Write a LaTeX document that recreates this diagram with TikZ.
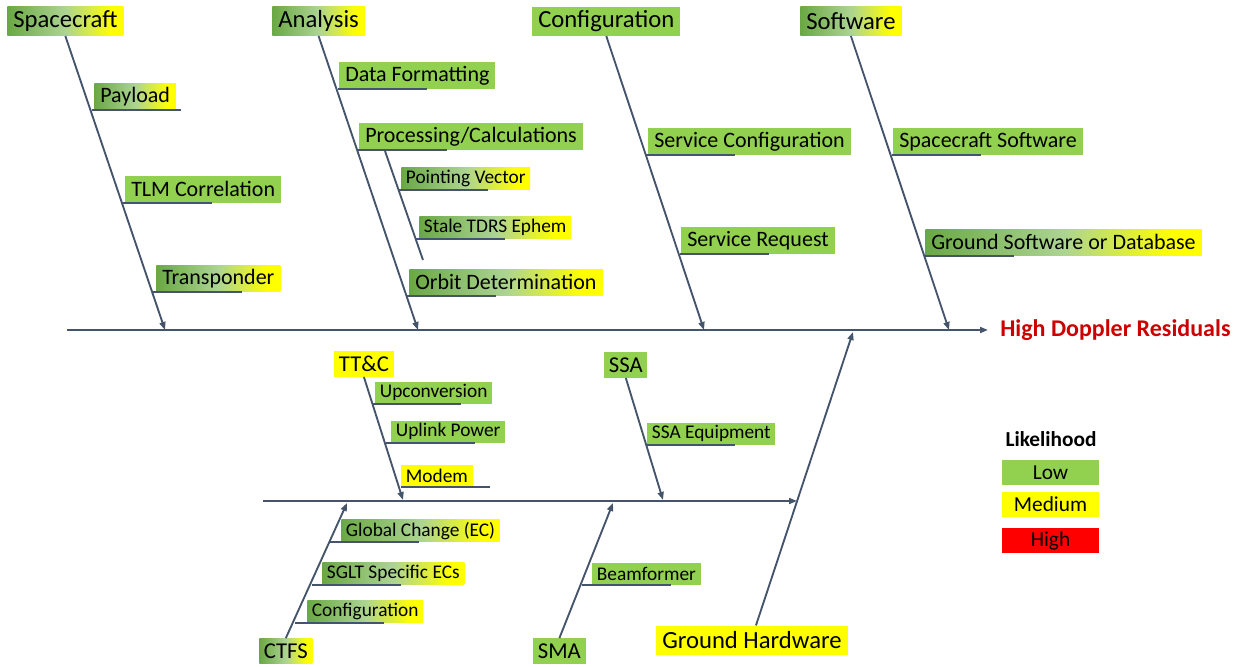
\documentclass[tikz,border=0pt]{standalone}
\usepackage{fontspec}
\setmainfont{Carlito}
\usepackage{tikz}
\usetikzlibrary{arrows.meta}
\definecolor{slate}{RGB}{68,84,106}
\definecolor{lowgreen}{RGB}{146,208,80}
\definecolor{medyellow}{RGB}{255,255,0}
\definecolor{highred}{RGB}{255,0,0}
\definecolor{gdark}{RGB}{106,168,68}
\definecolor{gpale}{RGB}{172,212,146}
\definecolor{effectred}{RGB}{204,0,0}
\pgfdeclarehorizontalshading{likely}{100bp}{color(0bp)=(gdark); color(25bp)=(gdark); color(50bp)=(gpale); color(70bp)=(medyellow); color(100bp)=(medyellow)}

\begin{document}
\begin{tikzpicture}[x=0.75pt, y=-0.75pt,
  cause/.style={anchor=south west, inner xsep=4.5pt, inner ysep=0pt,
                minimum height=21.75pt, font=\fontsize{18.5}{20}\selectfont},
  subcause/.style={anchor=south west, inner xsep=4.5pt, inner ysep=0pt,
                   minimum height=20pt, font=\fontsize{16.5}{18}\selectfont},
  group/.style={anchor=south west, inner xsep=3.5pt, inner ysep=0pt,
                minimum height=19pt, font=\fontsize{17}{18}\selectfont},
  minor/.style={anchor=south west, inner xsep=3.5pt, inner ysep=0pt,
                minimum height=16.5pt, font=\fontsize{14.5}{16}\selectfont},
  low/.style={fill=lowgreen},
  med/.style={fill=medyellow},
  mix/.style={shade, shading=likely},
  bone/.style={draw=slate, line width=1.4pt},
  arr/.style={bone, -{Triangle[length=6pt, width=4.5pt]}},
  legend/.style={minimum width=72.75pt, minimum height=18.75pt, inner sep=0pt,
                 font=\fontsize{16}{18}\selectfont},
]
  \useasboundingbox (0,0) rectangle (1239,667);

  % head and main spine
  \node[anchor=west, inner xsep=9pt, text=effectred,
        font=\fontsize{18}{20}\selectfont\bfseries] (effect) at (988,330) {High Doppler Residuals};
  \coordinate (tail) at (67,330);
  \draw[arr] (tail) -- (effect.west);

  % upper causes
  \node[cause, mix] (craft) at (7,36) {Spacecraft};
  \node[cause, mix] (anal) at (272,36) {Analysis};
  \node[cause, low] (config) at (532,36) {Configuration};
  \node[cause, mix] (soft) at (800,36) {Software};

  \coordinate (craftend) at (165,330);
  \coordinate (analend) at (418,330);
  \coordinate (configend) at (704,330);
  \coordinate (softend) at (949,330);
  \draw[arr] (craft.south) -- (craftend);
  \draw[arr] (anal.south) -- (analend);
  \draw[arr] (config.south) -- (configend);
  \draw[arr] (soft.south) -- (softend);

  % Spacecraft
  \node[subcause, mix] (payload) at (94,110) {Payload};
  \node[subcause, low] (tlm) at (125,203) {TLM Correlation};
  \node[subcause, mix] (xpdr) at (156,292) {Transponder};
  \draw[bone] (payload.south west) ++(-2,0) -- ++(89,0);
  \draw[bone] (tlm.south west) ++(-2,0) -- ++(89,0);
  \draw[bone] (xpdr.south west) ++(-3,0) -- ++(89,0);

  % Analysis
  \node[subcause, low] (fmt) at (339,89) {Data Formatting};
  \node[subcause, low] (proc) at (359,150) {Processing/Calculations};
  \node[minor, mix] (point) at (401,190) {Pointing Vector};
  \node[minor, mix] (stale) at (419,239) {Stale TDRS Ephem};
  \node[subcause, mix] (orbit) at (409,296) {Orbit Determination};
  \draw[bone] (fmt.south west) ++(-1,0) -- ++(89,0);
  \draw[bone] (proc.south west) ++(-1,0) -- ++(89,0);
  \coordinate (procfork) at (385,151);
  \coordinate (procend) at (423,260);
  \draw[bone] (procfork) -- (procend);
  \draw[bone] (point.south west) ++(-2,0) -- ++(89,0);
  \draw[bone] (stale.south west) ++(-3,0) -- ++(89,0);
  \draw[bone] (orbit.south west) ++(-2,0) -- ++(89,0);

  % Configuration
  \node[subcause, low] (svcconf) at (648,155) {Service Configuration};
  \node[subcause, low] (svcreq) at (681,254) {Service Request};
  \draw[bone] (svcconf.south west) ++(-2,0) -- ++(89,0);
  \draw[bone] (svcreq.south west) ++(-1,0) -- ++(89,0);

  % Software
  \node[subcause, low] (scsw) at (893,155) {Spacecraft Software};
  \node[subcause, mix] (gndsw) at (925,256) {Ground Software or Database};
  \draw[bone] (scsw.south west) ++(-1,0) -- ++(89,0);
  \draw[bone] (gndsw.south west) -- ++(89,0);

  % Ground Hardware and its spine
  \node[cause, med] (gh) at (656,655) {Ground Hardware};
  \coordinate (ghend) at (853,332);
  \draw[arr] ([xshift=3pt]gh.north) -- (ghend);
  \coordinate (lowtail) at (263,501);
  \coordinate (ghmeet) at (797,501);
  \draw[arr] (lowtail) -- (ghmeet);

  % lower causes
  \node[group, med] (ttc) at (334,377) {TT\&C};
  \node[group, low] (ssa) at (604,378) {SSA};
  \node[group, mix] (ctfs) at (259,664) {CTFS};
  \node[group, low] (sma) at (533,664) {SMA};
  \coordinate (ttcend) at (403,500);
  \coordinate (ssaend) at (663,500);
  \coordinate (ctfsend) at (347,503);
  \coordinate (smaend) at (613,503);
  \draw[arr] (ttc.south) -- (ttcend);
  \draw[arr] (ssa.south) -- (ssaend);
  \draw[arr] (ctfs.north) -- (ctfsend);
  \draw[arr] (sma.north) -- (smaend);

  % TT&C
  \node[minor, low] (upconv) at (375,404) {Upconversion};
  \node[minor, low] (uplink) at (391,443) {Uplink Power};
  \node[minor, med] (modem) at (401,487) {Modem};
  \draw[bone] (upconv.south west) ++(-3,0) -- ++(89,0);
  \draw[bone] (uplink.south west) ++(-5,0) -- ++(89,0);
  \draw[bone] (modem.south west) -- ++(89,0);

  % SSA
  \node[minor, low] (ssaeq) at (647,445) {SSA Equipment};
  \draw[bone] (ssaeq.south west) ++(-1,0) -- ++(89,0);

  % CTFS
  \node[minor, mix] (global) at (341,542) {Global Change (EC)};
  \node[minor, mix] (sglt) at (322,585) {SGLT Specific ECs};
  \node[minor, mix] (ctfsconf) at (307,623) {Configuration};
  \draw[bone] (global.south west) ++(-11,0) -- ++(89,0);
  \draw[bone] (sglt.south west) ++(-10,0) -- ++(89,0);
  \draw[bone] (ctfsconf.south west) ++(-12,0) -- ++(89,0);

  % SMA
  \node[minor, low] (beam) at (592,585) {Beamformer};
  \draw[bone] (beam.south west) ++(-10,0) -- ++(89,0);

  % legend
  \node[font=\fontsize{16}{18}\selectfont\bfseries] (likely) at (1051,439) {Likelihood};
  \node[legend, low] (lglow) at (1050.5,472.5) {Low};
  \node[legend, med] (lgmed) at (1050.5,504.5) {Medium};
  \node[legend, fill=highred] (lghigh) at (1050.5,540.5) {High};
\end{tikzpicture}
\end{document}
